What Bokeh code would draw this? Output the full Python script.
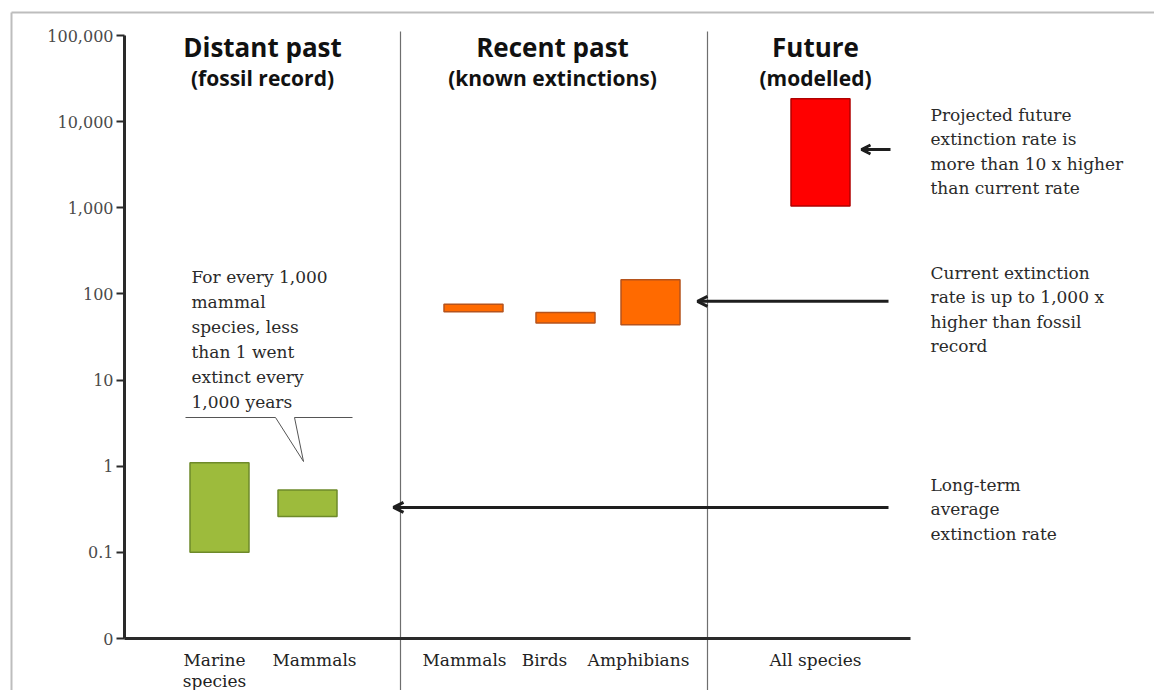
from bokeh.plotting import figure
from bokeh.models import Range1d, LogAxis, FixedTicker, Arrow, OpenHead, ColumnDataSource
from bokeh.core.properties import value
from bokeh.embed import file_html
from bokeh.resources import INLINE

# ---------------- data ----------------
categories = ["Marine species", "Mammals", "Mammals", "Birds", "Amphibians", "All species"]
periods = ["Distant past", "Distant past", "Recent past", "Recent past", "Recent past", "Future"]
rate_low = [0.1, 0.26, 62, 46, 44, 1050]
rate_high = [1.1, 0.53, 76, 61, 146, 18500]
bar_fill = ["#9dbb3c", "#9dbb3c", "#ff6a00", "#ff6a00", "#ff6a00", "#ff0000"]
bar_line = ["#6e8a2a", "#6e8a2a", "#b5531c", "#b5531c", "#b5531c", "#b00000"]

period_titles = ["Distant past", "Recent past", "Future"]
period_subtitles = ["(fossil record)", "(known extinctions)", "(modelled)"]

y_ticks = [0.01, 0.1, 1, 10, 100, 1000, 10000, 100000]
y_tick_labels = ["0", "0.1", "1", "10", "100", "1,000", "10,000", "100,000"]

# annotation levels (extinction rate values the arrows point at)
future_arrow_rate = 4750
current_arrow_rate = 82
longterm_arrow_rate = 0.332

note_future = ["Projected future", "extinction rate is", "more than  10 x higher", "than current rate"]
note_current = ["Current extinction", "rate is up to 1,000 x", "higher than fossil", "record"]
note_longterm = ["Long-term", "average", "extinction rate"]
note_callout = ["For every 1,000", "mammal", "species, less", "than 1 went", "extinct every", "1,000 years"]

# ---------------- layout helpers ----------------
W, H = 1154, 690
DEC = 603.0 / 7.0          # pixels per decade
def yv(py):
    return 10 ** (5 - (py - 35) / DEC)

bar_x = [219, 307, 473, 565, 650, 820]
bar_w = 59
label_x = [214, 314, 464, 544, 638, 815]
title_x = [262, 552, 815]
AXIS_X = 124

p = figure(width=W, height=H, min_border=0, toolbar_location=None,
           output_backend="svg", y_axis_type="log",
           x_range=Range1d(0, W), y_range=Range1d(yv(H), yv(0)),
           x_axis_location=None, y_axis_location=None)
p.outline_line_color = None
p.grid.visible = False
p.background_fill_color = "white"
p.border_fill_color = "white"

yaxis = LogAxis(fixed_location=AXIS_X, bounds=(y_ticks[0], y_ticks[-1]),
                ticker=FixedTicker(ticks=y_ticks, minor_ticks=[]))
yaxis.major_label_overrides = {t: l for t, l in zip(y_ticks, y_tick_labels)}
yaxis.axis_line_width = 3
yaxis.axis_line_color = "#2a2a2a"
yaxis.major_tick_line_width = 2
yaxis.major_tick_line_color = "#2a2a2a"
yaxis.major_tick_out = 8
yaxis.major_tick_in = 0
yaxis.minor_tick_line_color = None
yaxis.major_label_text_font = "DejaVu Serif"
yaxis.major_label_text_font_size = "16px"
yaxis.major_label_text_color = "#4a4a4a"
yaxis.major_label_standoff = 3
p.add_layout(yaxis, "left")

# frame border of the picture
p.line([11, 11], [yv(12), yv(H)], line_color="#bdbdbd", line_width=2)
p.line([11, W], [yv(12), yv(12)], line_color="#bdbdbd", line_width=2)

# period separators
p.segment(x0=[400, 707], y0=[yv(31)] * 2, x1=[400, 707], y1=[yv(H)] * 2,
          line_color="#6e6e6e", line_width=1.2)

# x axis line at the "0" level
p.segment(x0=[AXIS_X], y0=[y_ticks[0]], x1=[910], y1=[y_ticks[0]],
          line_color="#2a2a2a", line_width=3)

# bars
src = ColumnDataSource(dict(
    left=[x - bar_w / 2 for x in bar_x], right=[x + bar_w / 2 for x in bar_x],
    bottom=rate_low, top=rate_high, fill=bar_fill, line=bar_line, cat=categories))
p.quad(left="left", right="right", bottom="bottom", top="top", source=src,
       fill_color="fill", line_color="line", line_width=1.5)

# period titles
p.text(x=title_x, y=[yv(46)] * 3, text=period_titles, text_font=value("Open Sans"),
       text_font_style="bold", text_font_size="26px", text_align="center",
       text_baseline="middle", text_color="#111111")
p.text(x=title_x, y=[yv(77)] * 3, text=period_subtitles, text_font=value("Open Sans"),
       text_font_style="bold", text_font_size="21px", text_align="center",
       text_baseline="middle", text_color="#111111")

# category labels
serif = value("DejaVu Serif")
first_lines, second_x, second_lines = [], [], []
for x, c in zip(label_x, categories):
    if c == "Marine species":
        a, b = c.split(" ")
        first_lines.append(a)
        second_x.append(x)
        second_lines.append(b)
    else:
        first_lines.append(c)
p.text(x=label_x, y=[yv(659)] * len(label_x), text=first_lines, text_font=serif,
       text_font_size="17px", text_align="center", text_baseline="middle", text_color="#222222")
p.text(x=second_x, y=[yv(680)] * len(second_x), text=second_lines, text_font=serif,
       text_font_size="17px", text_align="center", text_baseline="middle", text_color="#222222")

def note(lines, x, py0, step=24.5, size="17px"):
    p.text(x=[x] * len(lines), y=[yv(py0 + i * step) for i in range(len(lines))], text=lines,
           text_font=serif, text_font_size=size, text_align="left",
           text_baseline="middle", text_color="#2a2a2a")

note(note_future, 930, 114)
note(note_current, 930, 272)
note(note_longterm, 930, 484)
note(note_callout, 191, 276, step=25)

# callout pointer
p.line([185, 275, 303, 294, 352], [yv(417), yv(417), yv(461), yv(417), yv(417)],
       line_color="#555555", line_width=1)

# arrows
for xs, xe, r, sz in [(890, 861, future_arrow_rate, 9),
                      (888, 697, current_arrow_rate, 10),
                      (888, 393, longterm_arrow_rate, 10)]:
    p.add_layout(Arrow(end=OpenHead(size=sz, line_width=3, line_color="#1e1e1e"),
                       x_start=xs, y_start=r, x_end=xe, y_end=r,
                       line_width=3, line_color="#1e1e1e"))

open("out.html", "w").write(file_html(p, INLINE))
